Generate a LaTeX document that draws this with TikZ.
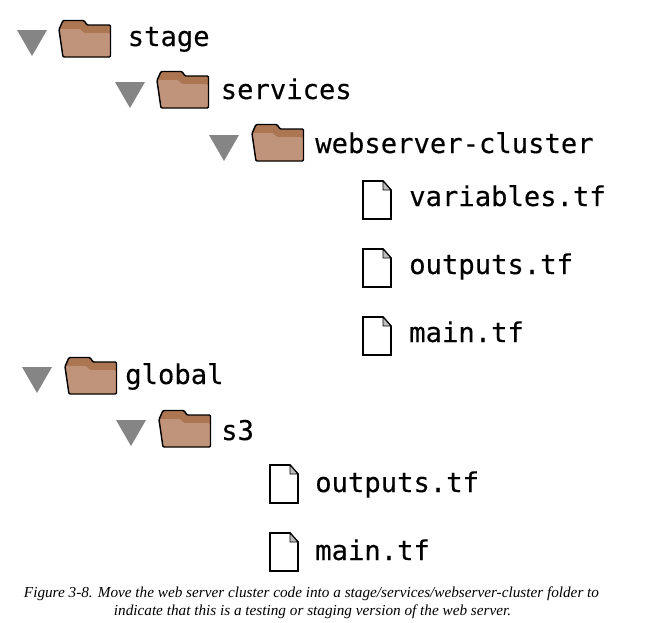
\documentclass[tikz,border=0pt]{standalone}
\usepackage{fontspec}
\setmainfont{Liberation Serif}
\setmonofont[FakeBold=0.25]{DejaVu Sans Mono}
\usetikzlibrary{positioning}
\definecolor{folderback}{HTML}{AD7653}
\definecolor{folderfront}{HTML}{BF947B}
\definecolor{arrowgray}{HTML}{858585}
\definecolor{cornergray}{HTML}{BDBDBD}
\tikzset{
    treelabel/.style={anchor=base west, inner sep=0pt, font=\ttfamily\fontsize{20.4}{24}\selectfont},
    captionline/.style={anchor=base, inner sep=0pt, font=\itshape\fontsize{11.42}{13}\selectfont},
    foldericon/.pic={
        \draw[fill=folderback, line width=1.1pt, rounded corners=0.8pt] (4,0.5) -- (25,0.5) -- (28,5) -- (51.5,5) -- (51.5,37) -- (4,37) -- (0,9.5) -- cycle;
        \fill[folderfront, rounded corners=0.8pt] (1,9) -- (21,9) -- (25,13) -- (50.5,13) -- (50.5,36) -- (4.8,36) -- cycle;
    },
    toggleicon/.pic={
        \fill[arrowgray] (0,0) -- (30,0) -- (15,26) -- cycle;
    },
    fileicon/.pic={
        \draw[fill=white, line width=1.2pt] (0,0) -- (20,0) -- (28,9) -- (28,38) -- (0,38) -- cycle;
        \draw[fill=cornergray, line width=0.7pt] (20,0) -- (28,9) -- (20,9) -- cycle;
    }
}
\begin{document}
\begin{tikzpicture}[x=0.75pt, y=-0.75pt]
    \useasboundingbox (0,0) rectangle (649,622);

    % Folder rows
    \foreach \tx/\ty/\fx/\fy in {17/30/59/20, 115/82/157/71, 209/135/252/124, 22/367/65/357, 116/420/159/410} {
        \pic at (\tx,\ty) {toggleicon};
        \pic at (\fx,\fy) {foldericon};
    }

    % File rows
    \foreach \fx/\fy in {363/181, 363/249, 363/317, 270/465, 270/533} {
        \pic at (\fx,\fy) {fileicon};
    }

    % Labels
    \node[treelabel] (stage) at (127.5,46) {stage};
    \node[treelabel] (services) at (220.5,99) {services};
    \node[treelabel] (cluster) at (315,153) {webserver-cluster};
    \node[treelabel] (variables) at (409,206) {variables.tf};
    \node[treelabel] (stageoutputs) at (409,274) {outputs.tf};
    \node[treelabel] (stagemain) at (409,342) {main.tf};
    \node[treelabel] (global) at (125,384) {global};
    \node[treelabel] (sthree) at (221,440) {s3};
    \node[treelabel] (globaloutputs) at (315,492) {outputs.tf};
    \node[treelabel] (globalmain) at (315,560) {main.tf};

    % Caption
    \node[captionline] (captionone) at (311.5,597) {Figure 3-8. Move the web server cluster code into a stage/services/webserver-cluster folder to};
    \node[captionline] (captiontwo) at (312.5,615) {indicate that this is a testing or staging version of the web server.};
\end{tikzpicture}
\end{document}
